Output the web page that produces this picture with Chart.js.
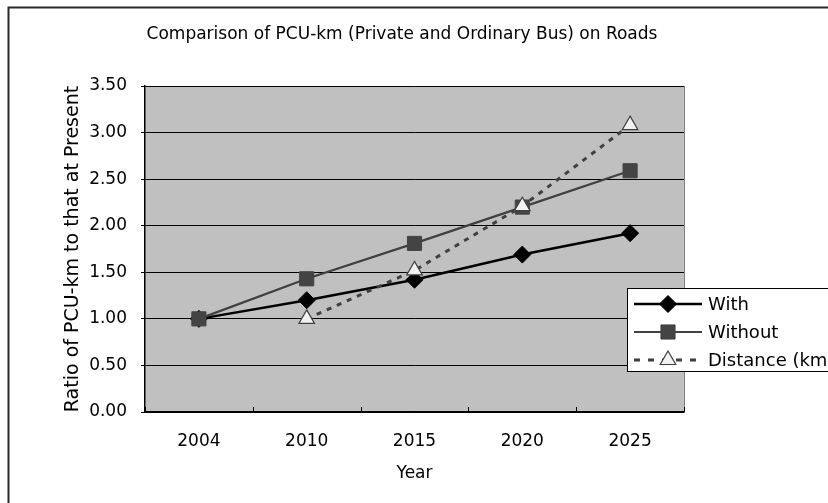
<!DOCTYPE html>
<html>
<head>
<meta charset="utf-8">
<script src="https://cdn.jsdelivr.net/npm/chart.js@4/dist/chart.umd.min.js"></script>
<style>
  html, body { margin: 0; padding: 0; background: #ffffff; }
  #wrap { width: 828px; height: 503px; }
</style>
</head>
<body>
<div id="wrap"><canvas id="c" width="828" height="503"></canvas></div>
<script>
// Data
const years = ['2004', '2010', '2015', '2020', '2025'];
const withValues = [1.00, 1.20, 1.42, 1.69, 1.92];
const withoutValues = [1.00, 1.43, 1.81, 2.20, 2.59];
const distanceValues = [null, 1.00, 1.52, 2.21, 3.08];
const seriesNames = ['With', 'Without', 'Distance (km)'];
const chartTitle = 'Comparison of PCU-km (Private and Ordinary Bus) on Roads';
const xTitle = 'Year';
const yTitle = 'Ratio of PCU-km to that at Present';

const FONT = '"DejaVu Sans", sans-serif';
const FS = 17;

// Grey plot background, plot frame edge, inner x ticks, title,
// outer frame lines and the legend box.
const decor = {
  id: 'decor',
  beforeDraw(chart) {
    const { ctx, chartArea: a } = chart;
    ctx.save();
    ctx.fillStyle = '#c0c0c0';
    ctx.fillRect(a.left, a.top, a.right - a.left, a.bottom - a.top);
    ctx.restore();
  },
  afterDatasetsDraw(chart) {
    const { ctx, chartArea: a, scales } = chart;
    ctx.save();
    ctx.strokeStyle = '#808080';
    ctx.lineWidth = 1;
    ctx.beginPath();
    ctx.moveTo(Math.round(a.right) + 0.5, a.top);
    ctx.lineTo(Math.round(a.right) + 0.5, a.bottom);
    ctx.stroke();
    const xs = scales.x;
    ctx.strokeStyle = '#000';
    for (let i = 0; i <= years.length; i++) {
      const px = Math.round(xs.getPixelForValue(i - 0.5)) + 0.5;
      ctx.beginPath();
      ctx.moveTo(px, a.bottom);
      ctx.lineTo(px, a.bottom - 5);
      ctx.stroke();
    }
    ctx.restore();
  },
  afterDraw(chart) {
    const { ctx } = chart;
    ctx.save();
    // chart title
    ctx.fillStyle = '#000';
    ctx.font = FS + 'px ' + FONT;
    ctx.textAlign = 'center';
    ctx.textBaseline = 'middle';
    ctx.fillText(chartTitle, 402, 35);

    // outer frame (left and top edges)
    ctx.strokeStyle = '#2a2a2a';
    ctx.lineWidth = 2;
    ctx.beginPath();
    ctx.moveTo(8.5, 503);
    ctx.lineTo(8.5, 7.5);
    ctx.lineTo(828, 7.5);
    ctx.stroke();

    // legend
    const bx = 627.5, by = 288.5, bw = 260, bh = 83;
    ctx.fillStyle = '#ffffff';
    ctx.fillRect(bx, by, bw, bh);
    ctx.strokeStyle = '#000';
    ctx.lineWidth = 1;
    ctx.strokeRect(bx, by, bw, bh);
    const rows = [304, 332, 360];
    chart.data.datasets.forEach((ds, i) => {
      const y = rows[i];
      ctx.save();
      ctx.strokeStyle = ds.borderColor;
      ctx.lineWidth = ds.borderWidth;
      ctx.setLineDash(ds.borderDash ? [6, 8] : []);
      ctx.beginPath();
      ctx.moveTo(634, y);
      ctx.lineTo(702, y);
      ctx.stroke();
      ctx.restore();
      ctx.save();
      ctx.fillStyle = ds.pointBackgroundColor;
      ctx.strokeStyle = ds.pointBorderColor;
      ctx.lineWidth = ds.pointBorderWidth;
      Chart.helpers.drawPoint(ctx, {
        pointStyle: ds.pointStyle,
        radius: ds.pointRadius,
        borderWidth: ds.pointBorderWidth,
        rotation: 0
      }, 668, y);
      ctx.restore();
      ctx.fillStyle = '#000';
      ctx.font = '18px ' + FONT;
      ctx.textBaseline = 'middle';
      ctx.textAlign = 'left';
      ctx.fillText(ds.label, 708, y + 1);
    });
    ctx.restore();
  }
};

new Chart(document.getElementById('c'), {
  type: 'line',
  data: {
    labels: years,
    datasets: [
      {
        label: seriesNames[0],
        data: withValues,
        order: 2,
        borderColor: '#000000',
        borderWidth: 2.5,
        pointStyle: 'rectRot',
        pointRadius: 8.5,
        pointBackgroundColor: '#000000',
        pointBorderColor: '#000000',
        pointBorderWidth: 1
      },
      {
        label: seriesNames[1],
        data: withoutValues,
        order: 1,
        borderColor: '#404040',
        borderWidth: 2.2,
        pointStyle: 'rect',
        pointRadius: 10,
        pointBackgroundColor: '#444444',
        pointBorderColor: '#444444',
        pointBorderWidth: 1
      },
      {
        label: seriesNames[2],
        data: distanceValues,
        order: 0,
        borderColor: '#404040',
        borderWidth: 3,
        borderDash: [5, 6],
        pointStyle: 'triangle',
        pointRadius: 9,
        pointBackgroundColor: '#f2f2f2',
        pointBorderColor: '#404040',
        pointBorderWidth: 1.2,
        spanGaps: false
      }
    ]
  },
  options: {
    responsive: false,
    animation: false,
    events: [],
    layout: { padding: { left: 10, right: 144, top: 86, bottom: 0 } },
    elements: { line: { tension: 0 } },
    plugins: {
      legend: { display: false },
      tooltip: { enabled: false },
      title: { display: false }
    },
    scales: {
      x: {
        offset: true,
        grid: { display: false },
        border: { display: true, color: '#000', width: 1.5 },
        ticks: { color: '#000', font: { family: FONT, size: FS }, padding: 11, maxRotation: 0 },
        title: {
          display: true, text: xTitle, color: '#000',
          font: { family: FONT, size: FS }, padding: { top: 0, bottom: 19 }
        },
        afterFit(s) { s.height = 91; }
      },
      y: {
        min: 0, max: 3.5,
        grid: { color: '#000', lineWidth: 1, tickLength: 4, drawTicks: true },
        border: { display: true, color: '#000', width: 1.5 },
        ticks: {
          stepSize: 0.5, color: '#000', padding: 14,
          font: { family: FONT, size: FS },
          callback: v => Number(v).toFixed(2)
        },
        title: {
          display: true, text: yTitle, color: '#000',
          font: { family: FONT, size: 19 }, padding: { top: 52, bottom: 0 }
        },
        afterFit(s) { s.width = 135; }
      }
    }
  },
  plugins: [decor]
});
</script>
</body>
</html>
